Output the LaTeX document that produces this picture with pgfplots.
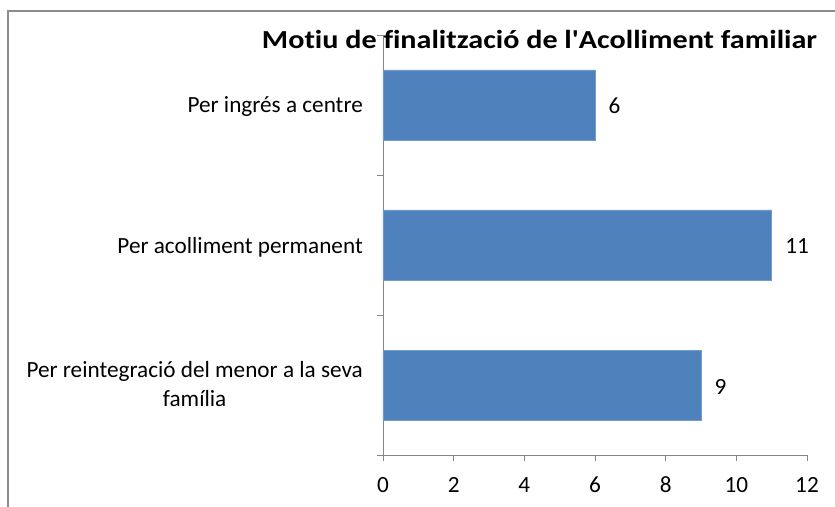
\documentclass[border=0pt]{standalone}
\usepackage{pgfplots}
\pgfplotsset{compat=1.18}
\usepackage{graphicx}
\usepackage{fontspec}
\setmainfont{Carlito}[Ligatures={NoCommon}]
\definecolor{barblue}{HTML}{4F81BD}
\definecolor{axgray}{HTML}{868686}
\definecolor{framegray}{HTML}{8C8C8C}
\begin{document}
\begin{tikzpicture}
\useasboundingbox (-383bp,-52bp) rectangle (452bp,455bp);
\draw[framegray, line width=2bp] (-375bp,-60bp) -- (-375bp,444bp) -- (460bp,444bp);
\begin{axis}[
  at={(0,0)}, anchor=south west,
  scale only axis,
  x=35.333bp, y=140bp,
  xmin=0, xmax=12, ymin=-0.5, ymax=2.5,
  xbar, bar width=70bp,
  axis x line*=bottom, axis y line*=left,
  axis line style={axgray, line width=0.8bp, -},
  xtick={0,2,...,12},
  ytick={0,1,2},
  yticklabels={{Per reintegració del menor a la seva\\família\rule[-7bp]{0pt}{7bp}},{Per acolliment permanent},{Per ingrés a centre}},
  minor ytick={-0.5,0.5,1.5,2.5},
  major tick length=6bp, minor tick length=6bp,
  every major y tick/.style={draw=none},
  every minor y tick/.style={draw=axgray, line width=0.8bp},
  every major x tick/.style={draw=axgray, line width=0.8bp},
  tick align=outside,
  /pgf/number format/assume math mode=true,
  ticklabel style={font=\fontsize{23.2bp}{29bp}\selectfont, text=black},
  yticklabel style={align=center, inner sep=0pt, xshift=-14bp, yshift=-2bp},
  xticklabel style={anchor=base, inner sep=0pt, yshift=-31bp},
  nodes near coords,
  nodes near coords style={font=\fontsize{23.2bp}{29bp}\selectfont, anchor=base west, inner sep=0pt, xshift=13.5bp, yshift=-9bp},
  clip=false,
]
\addplot[fill=barblue, draw=barblue!80!white] coordinates {(9,0) (11,1) (6,2)};
\end{axis}
\node[anchor=base, inner sep=0pt] at (156.5bp,406bp) {\resizebox{555bp}{\height}{\fontsize{26bp}{30bp}\selectfont\bfseries Motiu de finalització de l\textquotesingle Acolliment familiar}};
\end{tikzpicture}
\end{document}
